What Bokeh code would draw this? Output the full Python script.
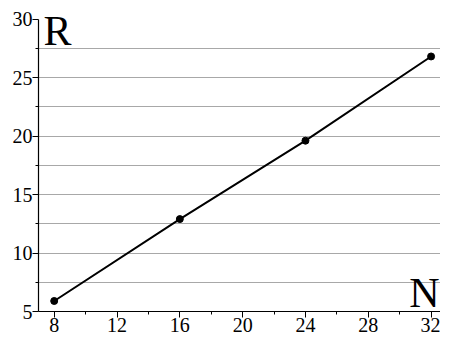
from bokeh.plotting import figure
from bokeh.models import FixedTicker, Label
from bokeh.embed import file_html
from bokeh.resources import INLINE

# data
N = [8, 16, 24, 32]
R = [5.9, 12.9, 19.6, 26.8]
x_ticks = [8, 12, 16, 20, 24, 28, 32]
x_minor = [10, 14, 18, 22, 26, 30]
y_ticks = [5, 10, 15, 20, 25, 30]
y_minor = [7.5, 12.5, 17.5, 22.5, 27.5]
x_label = "N"
y_label = "R"

FONT = "Liberation Serif"

p = figure(width=440, height=334, x_range=(7, 32.6), y_range=(5, 30.9),
           output_backend="svg", toolbar_location=None,
           min_border_left=38, min_border_right=0, min_border_top=8,
           min_border_bottom=20)
p.outline_line_color = None
p.background_fill_color = "white"
p.border_fill_color = "white"

# grid: interior majors + minors
grid_ticks = sorted([t for t in y_ticks if y_ticks[0] < t < y_ticks[-1]] + y_minor)
p.xgrid.grid_line_color = None
p.ygrid.ticker = FixedTicker(ticks=grid_ticks)
p.ygrid.grid_line_color = "#a8a8a8"
p.ygrid.grid_line_width = 1

p.xaxis.ticker = FixedTicker(ticks=x_ticks, minor_ticks=x_minor)
p.yaxis.ticker = FixedTicker(ticks=y_ticks, minor_ticks=y_minor)
p.yaxis.bounds = (y_ticks[0], y_ticks[-1])
for ax in (p.xaxis, p.yaxis):
    ax.axis_line_color = "black"
    ax.axis_line_width = 1.2
    ax.major_tick_line_color = "black"
    ax.minor_tick_line_color = "black"
    ax.major_tick_out = 6
    ax.major_tick_in = 0
    ax.minor_tick_out = 3
    ax.minor_tick_in = 0
    ax.major_label_text_font = FONT
    ax.major_label_text_font_size = "20px"
    ax.major_label_text_color = "black"
    ax.major_label_standoff = 0
    ax.axis_label_standoff = 0

p.line(N, R, line_color="black", line_width=2)
p.scatter(N, R, size=7, fill_color="black", line_color="black")

p.add_layout(Label(x=7, y=30, text=y_label, x_offset=5, y_offset=11,
                   text_font=FONT, text_font_size="42px", text_color="black",
                   text_baseline="top", text_align="left"))
p.add_layout(Label(x=32.6, y=5, text=x_label, x_offset=-1, y_offset=-4,
                   text_font=FONT, text_font_size="42px", text_color="black",
                   text_baseline="bottom", text_align="right"))

open("out.html", "w").write(file_html(p, INLINE))
